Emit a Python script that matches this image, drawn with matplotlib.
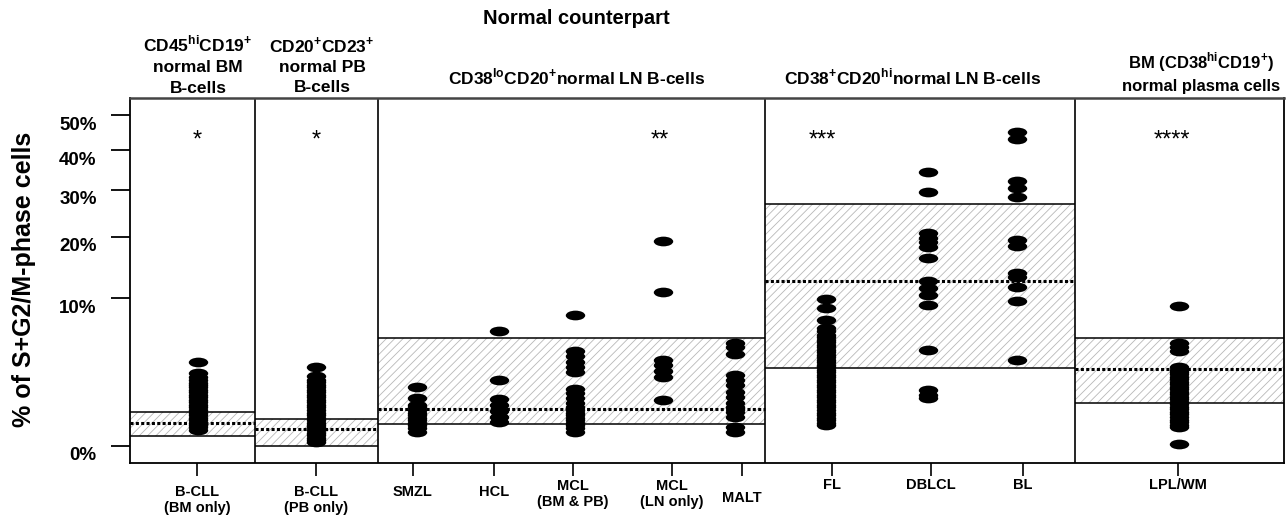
import numpy as np
import matplotlib as mpl
import matplotlib.pyplot as plt
from matplotlib.path import Path
from matplotlib.transforms import Affine2D, ScaledTranslation

mpl.rcParams['font.family'] = 'Liberation Sans'
mpl.rcParams['mathtext.fontset'] = 'custom'
mpl.rcParams['mathtext.rm'] = 'Liberation Sans'
mpl.rcParams['mathtext.bf'] = 'Liberation Sans:bold'
mpl.rcParams['hatch.linewidth'] = 0.6
mpl.rcParams['hatch.color'] = '#b8b8b8'

#
# data (% of S+G2/M-phase cells)
#
categories = ['B-CLL\n(BM only)', 'B-CLL\n(PB only)', 'SMZL', 'HCL',
              'MCL\n(BM & PB)', 'MCL\n(LN only)', 'MALT',
              'FL', 'DBLCL', 'BL', 'LPL/WM']

bcll_bm = [3.21, 2.42, 2.18, 1.96, 1.84, 1.71, 1.57, 1.44, 1.31, 1.19, 1.08,
           0.97, 0.87, 0.77, 0.68, 0.59, 0.51, 0.44, 0.37, 0.31, 0.25, 0.20,
           0.16, 0.12]
bcll_pb = [2.84, 2.25, 2.0, 1.85, 1.71, 1.57, 1.44, 1.31, 1.19, 1.08, 0.97,
           0.87, 0.77, 0.68, 0.59, 0.51, 0.44, 0.37, 0.31, 0.25, 0.20, 0.16,
           0.12, 0.08, 0.055, 0.03, 0.017, 0.009]
smzl = [1.58, 1.07, 0.77, 0.68, 0.59, 0.51, 0.44, 0.37, 0.31, 0.25, 0.20,
        0.15, 0.094]
hcl = [5.99, 1.96, 1.0, 0.77, 0.56, 0.39, 0.27]
mcl_bmpb = [7.79, 4.16, 3.71, 3.26, 2.88, 2.53, 1.47, 1.27, 1.04, 0.84,
            0.68, 0.59, 0.51, 0.44, 0.37, 0.31, 0.25, 0.20, 0.15, 0.094]
mcl_ln = [19.1, 10.8, 3.39, 2.96, 2.58, 2.16, 0.97]
malt = [4.89, 4.52, 3.86, 2.31, 2.0, 1.71, 1.35, 1.1, 0.84, 0.71, 0.54,
        0.39, 0.17, 0.094]
fl = [9.91, 8.69, 7.28, 6.38, 5.99, 5.65, 5.4, 5.15, 4.9, 4.68, 4.45, 4.23,
      4.0, 3.8, 3.6, 3.39, 3.2, 3.01, 2.83, 2.65, 2.48, 2.31, 2.15, 2.0, 1.85,
      1.71, 1.57, 1.44, 1.31, 1.19, 1.08, 0.97, 0.87, 0.77, 0.68, 0.59, 0.51,
      0.44, 0.37, 0.31, 0.25, 0.20]
dblcl = [34.2, 29.5, 20.7, 19.8, 19.0, 18.1, 16.2, 12.4, 11.4, 10.45, 9.12,
         4.2, 1.44, 1.2, 1.04]
bl = [45.1, 43.1, 32.0, 30.3, 28.3, 19.3, 18.2, 13.7, 13.1, 11.5, 9.64, 3.39]
lpl_wm = [8.99, 4.84, 4.47, 4.16, 2.84, 2.67, 2.51, 2.34, 2.18, 2.03, 1.88,
          1.74, 1.6, 1.47, 1.34, 1.22, 1.1, 0.99, 0.89, 0.79, 0.7, 0.61, 0.53,
          0.46, 0.39, 0.32, 0.26, 0.21, 0.17, 0.002]

# normal counterpart ranges per panel
panel_low = [0.046, 0.0, 0.216, 2.81, 0.836]
panel_high = [0.52, 0.327, 5.32, 26.85, 5.32]
panel_median = [0.236, 0.132, 0.628, 12.48, 2.70]
panel_stars = ['*', '*', '**', '***', '****']
panel_headers = [r'CD45$^{\mathbf{hi}}$CD19$^{\mathbf{+}}$' + '\nnormal BM\nB-cells',
                 r'CD20$^{\mathbf{+}}$CD23$^{\mathbf{+}}$' + '\nnormal PB\nB-cells',
                 r'CD38$^{\mathbf{lo}}$CD20$^{\mathbf{+}}$normal LN B-cells',
                 r'CD38$^{\mathbf{+}}$CD20$^{\mathbf{hi}}$normal LN B-cells',
                 r'BM (CD38$^{\mathbf{hi}}$CD19$^{\mathbf{+}}$)' + '\nnormal plasma cells']
ytick_vals = [0, 10, 20, 30, 40, 50]
ytick_labels = ['0%', '10%', '20%', '30%', '40%', '50%']

groups = [bcll_bm, bcll_pb, smzl, hcl, mcl_bmpb, mcl_ln, malt,
          fl, dblcl, bl, lpl_wm]

# layout (horizontal positions in pixel-like units)
tick_x = [197, 316, 413, 494, 573, 672, 742, 832, 931, 1023, 1178]
dot_x = [198, 316, 417, 499, 575, 663, 735, 826, 928, 1017, 1179]
edges = [130, 255, 378, 765, 1075, 1284]
star_x = [197, 316, 660, 822, 1172]
header_x = [198, 322, 577, 913, 1201]
header_y = [65, 65, 77, 77, 72]
header_size = [12.5, 12.5, 12.5, 12.5, 12]
label_dy = [-4, -4, -4, -4, -10, -10, 2, -11, -11, -11, -11]


def fwd(v):
    v = np.asarray(v, dtype=float)
    return np.sign(v) * np.sqrt(np.abs(v))


def inv(v):
    v = np.asarray(v, dtype=float)
    return np.sign(v) * v ** 2


W, H = 1286, 527
fig = plt.figure(figsize=(W / 100, H / 100), dpi=100)
ax = fig.add_axes([130 / W, 1 - 463 / H, (1284 - 130) / W, 365 / H])
ax.set_yscale('function', functions=(fwd, inv))
ax.set_xlim(edges[0], edges[-1])
ax.set_ylim(-0.132, 55.3)

# normal ranges
for i in range(len(edges) - 1):
    x0, x1 = edges[i], edges[i + 1]
    ax.fill_between([x0, x1], panel_low[i], panel_high[i], facecolor='white',
                    edgecolor='#b8b8b8', hatch='////', linewidth=0, zorder=1)
    ax.hlines([panel_low[i], panel_high[i]], x0, x1, color='black', lw=1.1,
              zorder=2)
    ax.hlines(panel_median[i], x0, x1, color='black', lw=2.2,
              linestyles=(0, (1, 0.75)), zorder=3)
    ax.text(star_x[i], 42.7, panel_stars[i], ha='center', va='center',
            fontsize=17, zorder=4)
ax.vlines(edges[1:-1], -0.132, 55.3, color='black', lw=1.2, zorder=2)

# patients
ell = Path.unit_circle().transformed(Affine2D().scale(1, 0.5))
for x, vals in zip(dot_x, groups):
    ax.plot([x] * len(vals), vals, linestyle='none', marker=ell, ms=14,
            color='black', mew=0, zorder=5)

# axes
for sp in ax.spines.values():
    sp.set_linewidth(1.3)
ax.spines['top'].set_linewidth(1.8)
ax.spines['top'].set_color('#444444')
ax.set_yticks(ytick_vals)
ax.set_yticklabels(ytick_labels, fontsize=13.5, fontweight='bold')
ax.tick_params(axis='y', direction='out', length=14, width=1.3, pad=10)
ax.set_xticks(tick_x)
ax.set_xticklabels(categories, fontsize=10.5, fontweight='bold')
ax.tick_params(axis='x', direction='out', length=9.5, width=1.2, pad=9)
for lab in ax.get_yticklabels():
    lab.set_transform(lab.get_transform() +
                      ScaledTranslation(0, -8 / 100, fig.dpi_scale_trans))
for lab, dy in zip(ax.get_xticklabels(), label_dy):
    lab.set_transform(lab.get_transform() +
                      ScaledTranslation(0, -dy / 100, fig.dpi_scale_trans))

# headers
for x, y, txt, fs in zip(header_x, header_y, panel_headers, header_size):
    fig.text(x / W, 1 - y / H, txt, ha='center', va='center', fontsize=fs,
             fontweight='bold', linespacing=1.45)
fig.text(576 / W, 1 - 18 / H, 'Normal counterpart', ha='center',
         va='center', fontsize=14.5, fontweight='bold')
fig.text(24 / W, 1 - 279 / H, '% of S+G2/M-phase cells', rotation=90,
         ha='center', va='center', fontsize=18, fontweight='bold')

fig.savefig('out.png', dpi=100)
